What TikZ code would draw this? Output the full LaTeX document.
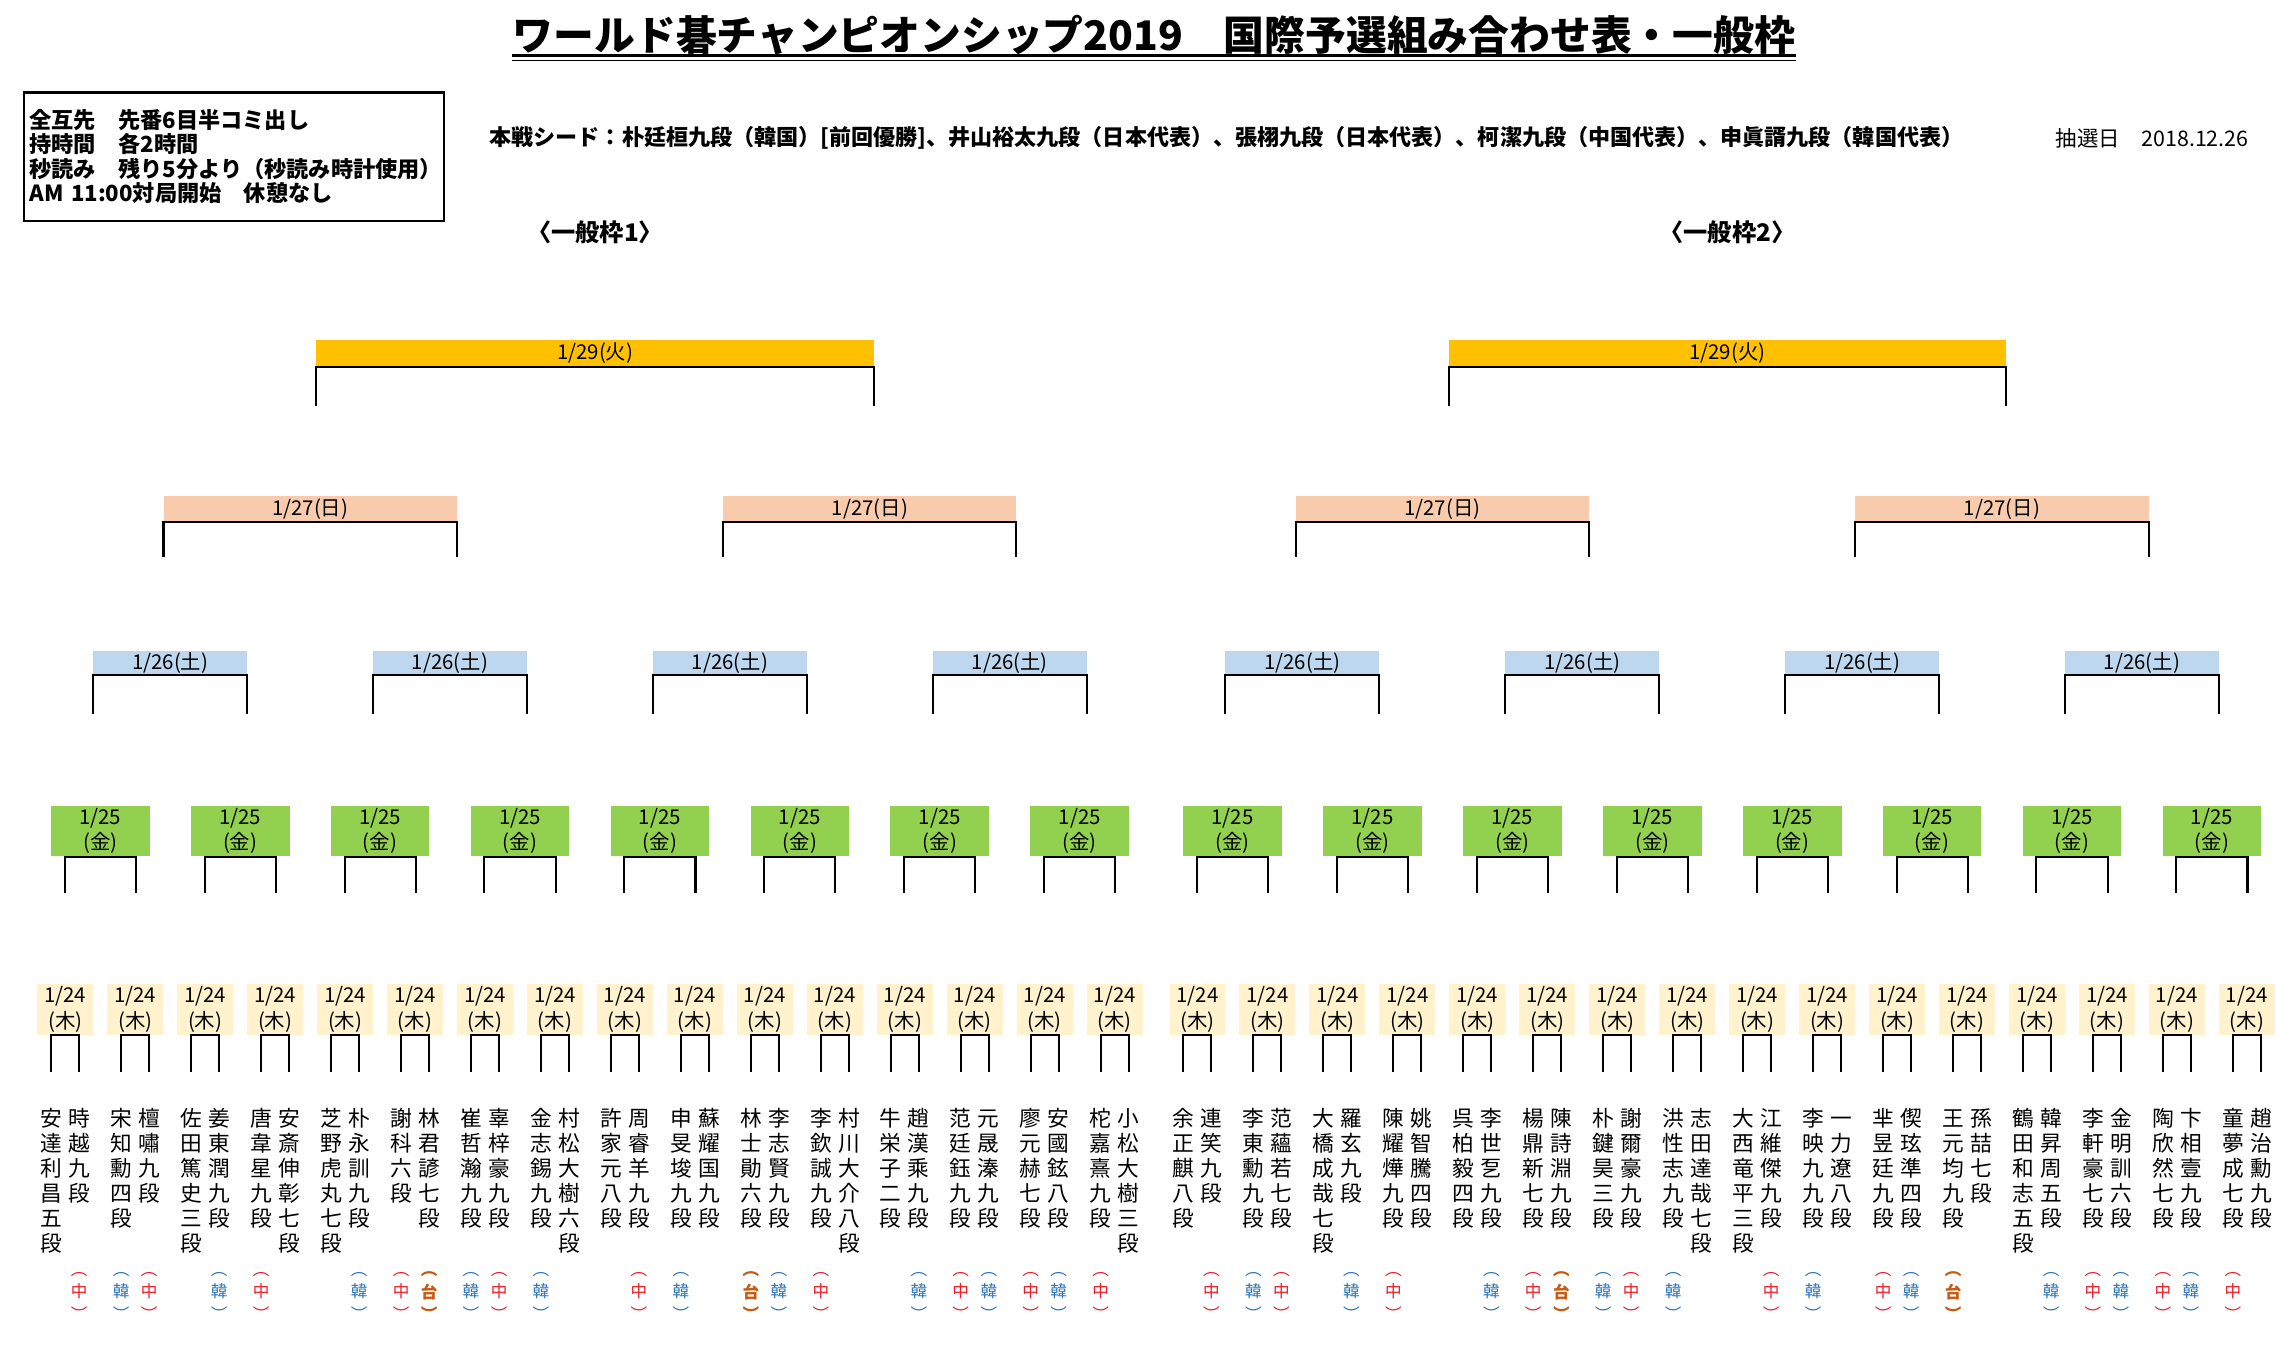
\documentclass[tikz,border=0pt]{standalone}
\usepackage{fontspec}
\setmainfont{Noto Sans CJK JP}
\usepackage{tikz}

\definecolor{c29}{HTML}{FFC000}
\definecolor{c27}{HTML}{F8CBAD}
\definecolor{c26}{HTML}{BDD7EE}
\definecolor{c25}{HTML}{92D050}
\definecolor{c24}{HTML}{FFF2CC}
\definecolor{cnred}{HTML}{EE1C25}
\definecolor{krblue}{HTML}{2E75B6}
\definecolor{twbrown}{HTML}{C55A11}

% names written top to bottom, one character per line
\makeatletter
\def\tate#1{\tate@a#1\relax}
\def\tate@a#1{\vphantom{段}#1\tate@b}
\def\tate@b#1{\ifx\relax#1\expandafter\@gobble\else\expandafter\@firstofone\fi{\\#1\tate@b}}
\makeatother

\tikzset{
  hizuke/.style={inner sep=0pt, align=center, font=\fontsize{8}{10}\selectfont},
  d29/.style={hizuke, fill=c29, minimum width=7.68cm, minimum height=0.372cm},
  d27/.style={hizuke, fill=c27, minimum width=4.04cm, minimum height=0.34cm},
  d26/.style={hizuke, fill=c26, minimum width=2.12cm, minimum height=0.32cm},
  d25/.style={hizuke, fill=c25, minimum width=1.36cm, minimum height=0.70cm},
  d24/.style={hizuke, fill=c24, minimum width=0.77cm, minimum height=0.70cm},
  kumi/.style={line width=0.8pt},
  senshu/.style={anchor=north, inner sep=0pt, align=center, font=\fontsize{8.5}{9.8}\selectfont},
  kuni/.style={inner sep=0pt, align=center, font=\fontsize{6.5}{8.8}\selectfont},
  cn/.style={text=cnred},
  kr/.style={text=krblue},
  tw/.style={text=twbrown, font=\fontsize{6.5}{8.8}\selectfont\bfseries},
  no/.style={}
}

\begin{document}
\begin{tikzpicture}[x=0.02cm,y=-0.02cm]
\path[fill=white,use as bounding box] (0,0) rectangle (1568,945);

% heading
\node[inner sep=0pt, anchor=base, font=\fontsize{16}{18}\selectfont\bfseries] (title) at (795,35)
  {ワールド碁チャンピオンシップ2019　国際予選組み合わせ表・一般枠};
\draw[line width=1.2pt] (title.south west) -- (title.south east);
\draw[line width=0.5pt] ([yshift=-0.06cm]title.south west) -- ([yshift=-0.06cm]title.south east);

\node[draw, line width=0.9pt, anchor=north west, inner sep=0pt, minimum width=5.79cm, minimum height=1.77cm,
  text width=5.63cm, align=left, font=\fontsize{8.7}{9.6}\selectfont\bfseries] (kitei) at (15.6,63)
  {全互先　先番6目半コミ出し\\持時間　各2時間\\秒読み　残り5分より（秒読み時計使用）\\AM 11:00対局開始　休憩なし};

\node[anchor=west, inner sep=0pt, font=\fontsize{8.65}{10}\selectfont\bfseries] (seed) at (337,95)
  {本戦シード：朴廷桓九段（韓国）[前回優勝]、井山裕太九段（日本代表）、張栩九段（日本代表）、柯潔九段（中国代表）、申眞諝九段（韓国代表）};
\node[anchor=west, inner sep=0pt, font=\fontsize{8.4}{10}\selectfont] (chusen) at (1416,95) {抽選日　2018.12.26};

\node[inner sep=0pt, font=\fontsize{9.5}{11}\selectfont\bfseries] (waku1) at (410,160) {〈一般枠1〉};
\node[inner sep=0pt, font=\fontsize{9.5}{11}\selectfont\bfseries] (waku2) at (1190,160) {〈一般枠2〉};

% 1/29
\foreach \k in {0,1}{
  \pgfmathsetmacro\cx{410+780*\k}
  \node[d29] (m29-\k) at (\cx,243.3) {1/29(火)};
  \coordinate (m29-\k-l) at (\cx-192,279.6);
  \coordinate (m29-\k-r) at (\cx+192,279.6);
  \draw[kumi] (m29-\k-l) |- (m29-\k.south) -| (m29-\k-r);
}
% 1/27
\foreach \k in {0,...,3}{
  \pgfmathsetmacro\cx{213.65+385.6*mod(\k,2)+780*int(\k/2)}
  \node[d27] (m27-\k) at (\cx,350.5) {1/27(日)};
  \coordinate (m27-\k-l) at (\cx-101,384);
  \coordinate (m27-\k-r) at (\cx+101,384);
  \draw[kumi] (m27-\k-l) |- (m27-\k.south) -| (m27-\k-r);
}
% 1/26
\foreach \k in {0,...,7}{
  \pgfmathsetmacro\cx{117.25+192.8*mod(\k,4)+780*int(\k/4)}
  \node[d26] (m26-\k) at (\cx,456.5) {1/26(土)};
  \coordinate (m26-\k-l) at (\cx-53,492);
  \coordinate (m26-\k-r) at (\cx+53,492);
  \draw[kumi] (m26-\k-l) |- (m26-\k.south) -| (m26-\k-r);
}
% 1/25
\foreach \k in {0,...,15}{
  \pgfmathsetmacro\cx{69.05+96.4*mod(\k,8)+780*int(\k/8)}
  \node[d25] (m25-\k) at (\cx,572.5) {1/25\\(金)};
  \coordinate (m25-\k-l) at (\cx-24.5,615);
  \coordinate (m25-\k-r) at (\cx+24.5,615);
  \draw[kumi] (m25-\k-l) |- (m25-\k.south) -| (m25-\k-r);
}
% 1/24
\foreach \k in {0,...,31}{
  \pgfmathsetmacro\cx{44.95+48.2*mod(\k,16)+780*int(\k/16)}
  \node[d24] (m24-\k) at (\cx,695.5) {1/24\\(木)};
  \coordinate (m24-\k-l) at (\cx-9.65,738.6);
  \coordinate (m24-\k-r) at (\cx+9.65,738.6);
  \draw[kumi] (m24-\k-l) |- (m24-\k.south) -| (m24-\k-r);
}

% players and their country marks
\foreach \nm/\ks/\kc [count=\i from 0] in {
  安達利昌五段/no/{}, 時越九段/cn/中, 宋知勳四段/kr/韓, 檀嘯九段/cn/中,
  佐田篤史三段/no/{}, 姜東潤九段/kr/韓, 唐韋星九段/cn/中, 安斎伸彰七段/no/{},
  芝野虎丸七段/no/{}, 朴永訓九段/kr/韓, 謝科六段/cn/中, 林君諺七段/tw/台,
  崔哲瀚九段/kr/韓, 辜梓豪九段/cn/中, 金志錫九段/kr/韓, 村松大樹六段/no/{},
  許家元八段/no/{}, 周睿羊九段/cn/中, 申旻埈九段/kr/韓, 蘇耀国九段/no/{},
  林士勛六段/tw/台, 李志賢九段/kr/韓, 李欽誠九段/cn/中, 村川大介八段/no/{},
  牛栄子二段/no/{}, 趙漢乘九段/kr/韓, 范廷鈺九段/cn/中, 元晟溱九段/kr/韓,
  廖元赫七段/cn/中, 安國鉉八段/kr/韓, 柁嘉熹九段/cn/中, 小松大樹三段/no/{},
  余正麒八段/no/{}, 連笑九段/cn/中, 李東勳九段/kr/韓, 范蘊若七段/cn/中,
  大橋成哉七段/no/{}, 羅玄九段/kr/韓, 陳耀燁九段/cn/中, 姚智騰四段/no/{},
  呉柏毅四段/no/{}, 李世乭九段/kr/韓, 楊鼎新七段/cn/中, 陳詩淵九段/tw/台,
  朴鍵昊三段/kr/韓, 謝爾豪九段/cn/中, 洪性志九段/kr/韓, 志田達哉七段/no/{},
  大西竜平三段/no/{}, 江維傑九段/cn/中, 李映九九段/kr/韓, 一力遼八段/no/{},
  芈昱廷九段/cn/中, 偰玹準四段/kr/韓, 王元均九段/tw/台, 孫喆七段/no/{},
  鶴田和志五段/no/{}, 韓昇周五段/kr/韓, 李軒豪七段/cn/中, 金明訓六段/kr/韓,
  陶欣然七段/cn/中, 卞相壹九段/kr/韓, 童夢成七段/cn/中, 趙治勳九段/no/{}}{
  \pgfmathsetmacro\sx{35.3+48.2*mod(int(\i/2),16)+19.3*mod(\i,2)+780*int(\i/32)}
  \node[senshu] (p\i) at (\sx,763) {\expandafter\tate\expandafter{\nm}};
  \if\relax\detokenize\expandafter{\kc}\relax\else
    \node[kuni,\ks] (k\i) at (\sx,893) {︵\\\kc\\︶};
  \fi
}
\end{tikzpicture}
\end{document}
